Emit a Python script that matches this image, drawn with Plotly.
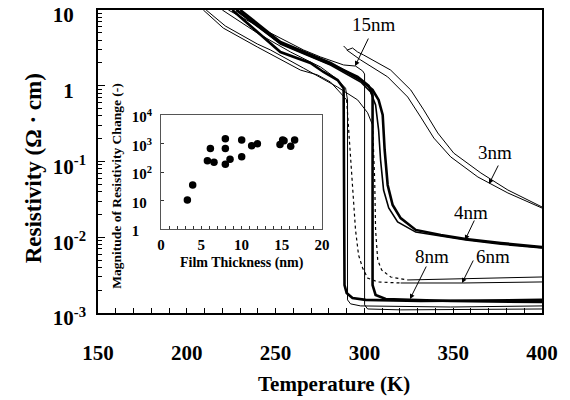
import plotly.graph_objects as go

# ---------------- main chart data (Temperature K, Resistivity Ohm*cm) ----------------
t_3nm_a = [288.3, 290.5, 293.3, 296.2, 299.5, 314.8, 326.1, 333.4, 341.3, 350.3, 365.6, 380.8, 400.0]
r_3nm_a = [3.35, 2.97, 3.15, 2.79, 2.55, 1.61, 0.88, 0.48, 0.238, 0.129, 0.0705, 0.042, 0.0251]
t_3nm_b = [290.0, 297.9, 313.1, 324.4, 331.7, 339.1, 348.6, 363.9, 380.8, 400.0]
r_3nm_b = [2.97, 2.19, 1.31, 0.71, 0.386, 0.204, 0.115, 0.0624, 0.0384, 0.0243]

t_4nm_a = [230.1, 252.7, 280.9, 297.9, 304.6, 308.0, 310.3, 311.4, 313.1, 315.9, 320.4, 328.9, 343.0, 357.1, 376.9, 400.0]
r_4nm_a = [10, 3.79, 2.0, 1.19, 0.88, 0.65, 0.411, 0.142, 0.049, 0.0267, 0.0179, 0.0125, 0.0107, 0.0095, 0.0084, 0.0074]
t_4nm_b = [228.4, 252.7, 280.9, 297.9, 303.5, 306.3, 308.0, 309.1, 310.8, 313.7, 318.7, 328.9, 357.1, 376.9, 400.0]
r_4nm_b = [10, 3.56, 1.88, 1.12, 0.83, 0.557, 0.26, 0.105, 0.042, 0.0243, 0.0159, 0.0117, 0.0092, 0.0081, 0.0072]

t_8nm_a = [225.6, 241.4, 252.7, 269.6, 277.0, 284.9, 288.3, 288.8, 290.0, 293.3, 300.7, 331.7, 400.0]
r_8nm_a = [10, 4.68, 2.79, 2.0, 1.52, 1.19, 0.93, 0.00234, 0.00184, 0.00158, 0.00149, 0.00144, 0.00149]
t_8nm_b = [227.8, 252.7, 280.9, 296.2, 302.4, 304.6, 304.6, 306.3, 312.0, 348.6, 400.0]
r_8nm_b = [10, 3.67, 1.94, 1.31, 1.0, 0.755, 0.00234, 0.00173, 0.00153, 0.00144, 0.00140]

t_15nm_a = [223.4, 247.1, 265.7, 275.3, 288.3, 295.0, 299.0, 300.1, 300.1, 301.8, 320.4, 400.0]
r_15nm_a = [10, 4.97, 2.97, 2.40, 1.88, 1.82, 1.57, 1.43, 0.00128, 0.00113, 0.0011, 0.00113]
t_15nm_b = [220.0, 239.7, 258.4, 275.3, 283.7, 289.4, 290.5, 290.5, 292.2, 297.9, 348.6, 400.0]
r_15nm_b = [10, 4.97, 2.79, 1.77, 1.27, 0.93, 0.65, 0.00149, 0.00132, 0.00124, 0.0012, 0.00124]

t_6nm_a = [209.3, 220.5, 239.7, 258.4, 264.0, 273.6, 280.9, 286.6, 290.0]
r_6nm_a = [10, 5.78, 3.25, 1.88, 1.61, 1.39, 1.12, 0.80, 0.65]
t_6nm_a_dot = [290.0, 291.6, 293.3, 295.0, 296.7, 299.0, 301.8, 307.5, 320.4]
r_6nm_a_dot = [0.65, 0.192, 0.057, 0.0125, 0.00583, 0.00393, 0.0029, 0.00257, 0.00249]
t_6nm_a_end = [320.4, 355.4, 400.0]
r_6nm_a_end = [0.00249, 0.00249, 0.00257]

t_6nm_b = [210.9, 221.7, 239.7, 247.1, 265.7, 284.9, 296.2, 301.8, 304.6]
r_6nm_b = [10, 6.15, 3.56, 2.97, 1.71, 0.96, 0.65, 0.44, 0.303]
t_6nm_b_dot = [304.6, 305.8, 306.3, 307.5, 309.7, 314.8, 324.4]
r_6nm_b_dot = [0.303, 0.057, 0.0125, 0.00501, 0.0037, 0.00299, 0.00273]
t_6nm_b_end = [324.4, 354.3, 400.0]
r_6nm_b_end = [0.00273, 0.00281, 0.00299]

# ---------------- inset data ----------------
thickness_nm = [3.27, 3.93, 5.76, 6.58, 6.13, 7.99, 7.99, 7.99, 8.57, 10.02, 10.02,
                11.26, 11.97, 14.78, 15.11, 15.28, 16.11, 16.6]
magnitude = [10.5, 35, 250, 220, 680, 1480, 680, 190, 285, 1330, 345,
             840, 985, 935, 1330, 1250, 815, 1330]

# ticks (invisible spans keep the bases of the labels aligned like the original)
HID = '<span style="color:rgba(0,0,0,0)">'
x_ticks = [150, 200, 250, 300, 350, 400]
y_ticks = [10, 1, 0.1, 0.01, 0.001]
y_ticktext = ["10" + HID + "<sup>-1</sup></span>", "1" + HID + "<sup>-1</sup></span>",
              "10<sup>-1</sup>", "10<sup>-2</sup>", "10<sup>-3</sup>"]
y_minor = [m * 10.0 ** e for e in (-3, -2, -1, 0) for m in range(2, 10)]
in_x_ticks = [0, 5, 10, 15, 20]
in_y_ticks = [1, 10, 100, 1000, 10000]
in_y_ticktext = ["1" + HID + "0<sup>4</sup></span>", "10" + HID + "<sup>4</sup></span>",
                 "10<sup>2</sup>", "10<sup>3</sup>", "10<sup>4</sup>"]

SERIF = "Liberation Serif"
THICK = 2.6
THIN = 1.0

fig = go.Figure()


def add(t, r, width, dash="solid"):
    fig.add_trace(go.Scatter(x=t, y=r, mode="lines",
                             line=dict(color="black", width=width, dash=dash),
                             showlegend=False, hoverinfo="skip"))


add(t_3nm_a, r_3nm_a, THIN)
add(t_3nm_b, r_3nm_b, THIN)
add(t_4nm_a, r_4nm_a, THICK)
add(t_4nm_b, r_4nm_b, 1.6)
add(t_8nm_a, r_8nm_a, THICK)
add(t_8nm_b, r_8nm_b, THICK)
add(t_15nm_a, r_15nm_a, THIN)
add(t_15nm_b, r_15nm_b, THIN)
add(t_6nm_a, r_6nm_a, THIN)
add(t_6nm_a_dot, r_6nm_a_dot, 1.2, "dot")
add(t_6nm_a_end, r_6nm_a_end, THIN)
add(t_6nm_b, r_6nm_b, THIN)
add(t_6nm_b_dot, r_6nm_b_dot, 1.2, "dot")
add(t_6nm_b_end, r_6nm_b_end, THIN)

fig.add_trace(go.Scatter(x=thickness_nm, y=magnitude, mode="markers",
                         marker=dict(color="black", size=7.5),
                         xaxis="x2", yaxis="y2", showlegend=False, hoverinfo="skip"))

fig.update_layout(
    width=570, height=400,
    margin=dict(l=98, r=28, t=10, b=87, autoexpand=False),
    paper_bgcolor="white", plot_bgcolor="white",
    showlegend=False,
    xaxis=dict(range=[150, 400], tickmode="array", tickvals=x_ticks, automargin=False,
               ticks="inside", ticklen=5, tickwidth=1, tickcolor="black",
               minor=dict(dtick=10, tick0=150, ticks="inside", ticklen=5, tickcolor="black", showgrid=False),
               showline=True, linecolor="black", linewidth=1.5, mirror=True,
               showgrid=False, zeroline=False, ticklabeloverflow="allow",
               tickfont=dict(family=SERIF, size=21, color="black", weight="bold"),
               ticklabelstandoff=20),
    yaxis=dict(type="log", range=[-3, 1], tickmode="array", tickvals=y_ticks, ticktext=y_ticktext,
               automargin=False, ticklabeloverflow="allow",
               ticks="inside", ticklen=7, tickwidth=1, tickcolor="black",
               minor=dict(tickmode="array", tickvals=y_minor, ticks="inside", ticklen=4,
                          tickcolor="black", showgrid=False),
               showline=True, linecolor="black", linewidth=1.5, mirror=True,
               showgrid=False, zeroline=False,
               tickfont=dict(family=SERIF, size=21, color="black", weight="bold"),
               ticklabelstandoff=6, ticklabelshift=5),
    xaxis2=dict(domain=[0.142, 0.5045], anchor="y2", range=[0, 20], tickmode="array",
                tickvals=in_x_ticks, ticks="inside", ticklen=3, tickcolor="#333", automargin=False,
                minor=dict(dtick=1, tick0=0, ticks="inside", ticklen=3, tickcolor="#333", showgrid=False),
                showline=True, linecolor="#555", linewidth=1, mirror=True,
                showgrid=False, zeroline=False,
                tickfont=dict(family=SERIF, size=15, color="black", weight="bold"),
                ticklabelstandoff=2),
    yaxis2=dict(domain=[0.277, 0.653], anchor="x2", type="log", range=[0, 4], tickmode="array",
                tickvals=in_y_ticks, ticktext=in_y_ticktext, ticks="inside", ticklen=3, tickcolor="#333",
                automargin=False,
                showline=True, linecolor="#555", linewidth=1, mirror=True,
                showgrid=False, zeroline=False,
                tickfont=dict(family=SERIF, size=15, color="black", weight="bold"),
                ticklabelstandoff=5, ticklabelshift=2),
)

bold = dict(family=SERIF, color="black", weight="bold")
annots = [
    dict(text="Temperature (K)", x=0.5315, y=-0.234, font=dict(size=21, **bold)),
    dict(text="Resistivity (\u03a9 \u00b7 cm)", x=-0.146, y=0.478, textangle=-90, font=dict(size=23, **bold)),
    dict(text="Film Thickness (nm)", x=0.3243, y=0.165, font=dict(size=14, **bold)),
    dict(text="Magnitude of Resistivity Change (-)", x=0.0428, y=0.42, textangle=-90, font=dict(size=13.5, **bold)),
]
reg = dict(family=SERIF, color="black", size=19)
labels = [
    ("15nm", 0.6216, 0.9505), ("3nm", 0.894, 0.531), ("4nm", 0.840, 0.333),
    ("8nm", 0.752, 0.188), ("6nm", 0.890, 0.188),
]
for txt, x, y in labels:
    annots.append(dict(text=txt, x=x, y=y, font=reg))
for a in annots:
    a.update(xref="paper", yref="paper", showarrow=False, xanchor="center", yanchor="middle")
    fig.add_annotation(**a)

arrows = [(0.579, 0.815, 14, -29), (0.8806, 0.4257, 10, -20), (0.8266, 0.2409, 10, -21),
          (0.7027, 0.0462, 17, -34), (0.8198, 0.099, 12, -24)]
for x, y, ax, ay in arrows:
    fig.add_annotation(x=x, y=y, xref="paper", yref="paper", ax=ax, ay=ay, text="",
                       showarrow=True, arrowhead=2, arrowsize=1, arrowwidth=1, arrowcolor="black", standoff=0)

fig.write_html("out.html", config={"displayModeBar": False},
               post_script="document.body.style.margin='0';document.body.style.padding='0';")
